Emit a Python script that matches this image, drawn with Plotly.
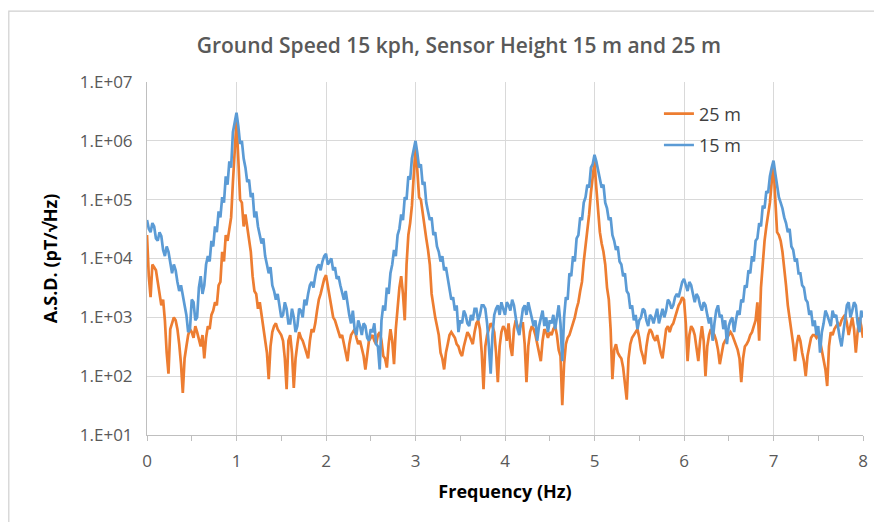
import numpy as np
import plotly.graph_objects as go

# Frequency grid (Hz), 0.02 Hz spacing from 0 to 8 Hz
freq = np.round(np.linspace(0.0, 8.0, 401), 2)

# Amplitude spectral density, sensor height 25 m (pT/sqrt(Hz))
asd_25m = [
    2.5e4, 5.0e3, 2.2e3, 7.9e3, 7.1e3, 6.3e3, 4.0e3, 2.5e3, 1.6e3, 2.0e3,
    8.9e2, 2.5e2, 1.1e2, 6.3e2, 7.9e2, 1.0e3, 8.9e2, 6.3e2, 3.5e2, 1.6e2,
    52, 2.0e2, 3.2e2, 5.0e2, 6.3e2, 5.6e2, 4.5e2, 7.1e2, 5.6e2, 4.0e2,
    3.2e2, 5.0e2, 2.0e2, 4.5e2, 7.1e2, 6.3e2, 1.1e3, 1.3e3, 1.8e3, 1.6e3,
    3.5e3, 4.0e3, 1.3e4, 8.9e3, 2.5e4, 2.0e4, 3.5e4, 5.0e4, 2.0e5, 7.9e5,
    2.2e6, 5.0e5, 1.0e5, 8.9e4, 3.5e4, 5.6e4, 3.2e4, 2.2e4, 1.3e4, 5.0e3,
    2.8e3, 2.5e3, 1.4e3, 1.8e3, 1.1e3, 6.3e2, 4.5e2, 2.5e2, 89, 3.2e2,
    5.6e2, 7.1e2, 7.9e2, 6.3e2, 5.6e2, 5.0e2, 4.0e2, 2.0e2, 60, 4.0e2,
    5.0e2, 2.5e2, 63, 2.0e2, 3.5e2, 5.6e2, 4.5e2, 4.0e2, 3.2e2, 2.5e2,
    2.0e2, 4.0e2, 6.3e2, 5.6e2, 7.9e2, 1.3e3, 2.0e3, 2.5e3, 3.5e3, 4.5e3,
    5.2e3, 3.5e3, 2.5e3, 1.6e3, 1.0e3, 8.9e2, 7.1e2, 5.6e2, 4.5e2, 5.0e2,
    3.5e2, 2.8e2, 1.8e2, 3.5e2, 5.0e2, 5.6e2, 6.3e2, 4.5e2, 3.5e2, 4.0e2,
    2.8e2, 2.2e2, 1.3e2, 2.5e2, 4.0e2, 4.5e2, 5.0e2, 4.0e2, 3.5e2, 5.0e2,
    5.6e2, 4.0e2, 2.2e2, 2.0e2, 1.4e2, 3.5e2, 6.3e2, 4.0e2, 1.6e2, 6.3e2,
    1.6e3, 3.2e3, 5.0e3, 2.5e3, 8.9e2, 7.9e3, 2.5e4, 4.0e4, 7.9e4, 2.5e5,
    7.9e5, 3.2e5, 1.1e5, 1.0e5, 5.6e4, 4.0e4, 2.2e4, 1.4e4, 7.9e3, 2.5e3,
    1.4e3, 1.0e3, 7.1e2, 5.0e2, 2.5e2, 2.0e2, 1.3e2, 2.5e2, 3.5e2, 5.0e2,
    5.6e2, 5.0e2, 4.5e2, 3.5e2, 3.2e2, 2.5e2, 2.2e2, 3.2e2, 4.5e2, 5.6e2,
    5.0e2, 4.0e2, 3.5e2, 5.6e2, 7.9e2, 8.9e2, 6.3e2, 2.5e2, 60, 3.2e2,
    5.0e2, 6.3e2, 7.9e2, 7.1e2, 5.6e2, 2.5e2, 79, 3.2e2, 5.6e2, 7.1e2,
    6.3e2, 4.0e2, 7.9e2, 3.2e2, 2.2e2, 6.3e2, 8.9e2, 7.1e2, 6.3e2, 7.9e2,
    7.9e2, 3.5e2, 79, 3.2e2, 5.6e2, 7.1e2, 6.3e2, 5.0e2, 3.5e2, 2.8e2,
    1.8e2, 4.0e2, 6.3e2, 5.6e2, 4.5e2, 5.6e2, 5.0e2, 6.3e2, 7.1e2, 5.0e2,
    2.8e2, 2.2e2, 32, 1.6e2, 3.5e2, 4.5e2, 5.0e2, 6.3e2, 7.9e2, 1.0e3,
    1.4e3, 1.8e3, 2.8e3, 4.0e3, 8.9e3, 1.6e4, 3.2e4, 5.6e4, 1.3e5, 2.5e5,
    4.5e5, 1.6e5, 5.6e4, 2.8e4, 1.8e4, 1.3e4, 7.9e3, 3.2e3, 2.0e3, 6.3e2,
    89, 2.8e2, 3.5e2, 2.5e2, 2.2e2, 2.0e2, 1.4e2, 79, 40, 2.0e2,
    3.5e2, 4.5e2, 5.0e2, 5.6e2, 6.3e2, 4.5e2, 2.8e2, 2.2e2, 1.6e2, 3.2e2,
    5.0e2, 6.3e2, 5.6e2, 4.5e2, 4.0e2, 5.0e2, 3.5e2, 2.5e2, 2.0e2, 4.0e2,
    6.3e2, 7.1e2, 5.6e2, 7.1e2, 7.9e2, 1.0e3, 1.3e3, 1.6e3, 1.8e3, 2.2e3,
    2.0e3, 7.9e2, 1.8e2, 5.0e2, 7.1e2, 6.3e2, 5.0e2, 3.2e2, 1.8e2, 4.0e2,
    7.1e2, 4.0e2, 1.0e2, 3.2e2, 5.0e2, 6.3e2, 5.6e2, 5.0e2, 4.0e2, 2.8e2,
    1.6e2, 2.5e2, 3.5e2, 4.0e2, 4.5e2, 5.0e2, 5.6e2, 5.0e2, 4.0e2, 3.5e2,
    2.8e2, 2.0e2, 79, 2.0e2, 3.2e2, 3.5e2, 4.0e2, 5.0e2, 5.6e2, 7.1e2,
    8.9e2, 1.8e3, 4.0e2, 3.2e3, 1.0e4, 2.0e4, 3.5e4, 5.6e4, 8.9e4, 2.0e5,
    4.0e5, 1.0e5, 2.8e4, 2.5e4, 2.0e4, 1.3e4, 7.1e3, 3.5e3, 1.6e3, 1.0e3,
    6.3e2, 3.5e2, 1.8e2, 3.5e2, 5.0e2, 4.0e2, 2.5e2, 1.8e2, 1.0e2, 2.2e2,
    3.2e2, 4.5e2, 5.0e2, 5.0e2, 4.5e2, 5.0e2, 4.0e2, 2.8e2, 1.8e2, 1.3e2,
    68, 3.2e2, 5.6e2, 5.0e2, 6.3e2, 7.1e2, 7.9e2, 7.1e2, 8.9e2, 1.0e3,
    1.1e3, 7.9e2, 5.0e2, 7.1e2, 1.0e3, 6.3e2, 2.5e2, 5.6e2, 1.0e3, 7.1e2,
    4.5e2,
]

# Amplitude spectral density, sensor height 15 m (pT/sqrt(Hz))
asd_15m = [
    4.5e4, 3.2e4, 2.8e4, 4.0e4, 3.5e4, 2.2e4, 2.0e4, 2.8e4, 2.4e4, 1.4e4,
    1.1e4, 1.6e4, 1.3e4, 7.9e3, 5.6e3, 7.9e3, 6.3e3, 4.0e3, 2.8e3, 3.5e3,
    2.2e3, 1.6e3, 1.1e3, 5.6e2, 6.3e2, 2.0e3, 1.8e3, 8.9e2, 1.0e3, 3.2e3,
    5.0e3, 2.5e3, 3.5e3, 7.9e3, 1.1e4, 8.9e3, 2.0e4, 1.6e4, 3.5e4, 2.8e4,
    6.3e4, 5.0e4, 1.1e5, 8.9e4, 2.5e5, 1.8e5, 4.5e5, 3.5e5, 1.4e6, 2.0e6,
    3.0e6, 1.8e6, 8.9e5, 1.0e6, 5.0e5, 3.5e5, 2.0e5, 2.2e5, 1.1e5, 1.3e5,
    5.0e4, 6.3e4, 3.5e4, 2.5e4, 1.8e4, 2.2e4, 1.1e4, 7.9e3, 5.6e3, 7.1e3,
    3.5e3, 2.8e3, 2.0e3, 2.5e3, 1.6e3, 1.0e3, 1.1e3, 1.8e3, 1.4e3, 7.9e2,
    7.9e2, 1.4e3, 1.0e3, 5.6e2, 7.1e2, 1.4e3, 1.3e3, 1.0e3, 2.0e3, 1.6e3,
    2.5e3, 3.5e3, 4.0e3, 3.2e3, 5.0e3, 7.1e3, 7.9e3, 6.3e3, 8.9e3, 1.1e4,
    1.2e4, 7.9e3, 8.9e3, 1.0e4, 6.3e3, 7.1e3, 4.5e3, 5.0e3, 3.5e3, 2.5e3,
    2.0e3, 2.8e3, 1.6e3, 1.1e3, 7.9e2, 1.3e3, 6.3e2, 5.0e2, 8.9e2, 7.1e2,
    5.0e2, 7.9e2, 7.1e2, 4.5e2, 4.0e2, 6.3e2, 5.6e2, 7.9e2, 3.5e2, 3.2e2,
    1.3e2, 8.9e2, 1.6e3, 1.3e3, 3.2e3, 2.5e3, 5.6e3, 7.9e3, 1.4e4, 1.1e4,
    2.5e4, 3.2e4, 5.6e4, 4.5e4, 1.1e5, 1.0e5, 2.5e5, 2.2e5, 5.0e5, 7.1e5,
    1.0e6, 6.3e5, 3.5e5, 4.0e5, 1.8e5, 2.0e5, 8.9e4, 6.3e4, 4.5e4, 5.0e4,
    2.5e4, 2.8e4, 1.6e4, 1.3e4, 8.9e3, 1.1e4, 6.3e3, 7.1e3, 4.5e3, 2.8e3,
    2.0e3, 2.2e3, 1.3e3, 1.6e3, 5.6e2, 8.9e2, 7.9e2, 1.3e3, 1.1e3, 7.9e2,
    7.1e2, 1.1e3, 8.9e2, 1.4e3, 1.4e3, 8.9e2, 1.1e3, 1.6e3, 1.6e3, 1.4e3,
    7.9e2, 3.2e2, 1.1e2, 5.0e2, 1.1e3, 1.4e3, 1.6e3, 1.1e3, 1.8e3, 1.4e3,
    1.1e3, 1.8e3, 1.6e3, 1.3e3, 2.0e3, 1.6e3, 1.0e3, 6.3e2, 5.0e2, 8.9e2,
    1.4e3, 1.6e3, 1.1e3, 1.8e3, 1.3e3, 1.0e3, 7.1e2, 8.9e2, 4.0e2, 7.1e2,
    1.0e3, 1.3e3, 7.1e2, 1.0e3, 5.6e2, 8.9e2, 7.9e2, 1.1e3, 6.3e2, 1.0e3,
    1.6e3, 7.9e2, 1.8e2, 1.0e3, 2.2e3, 2.0e3, 5.6e3, 5.0e3, 1.1e4, 8.9e3,
    2.2e4, 2.5e4, 5.0e4, 4.5e4, 8.9e4, 1.1e5, 1.8e5, 1.6e5, 3.5e5, 4.0e5,
    5.8e5, 4.5e5, 3.2e5, 2.2e5, 1.6e5, 1.8e5, 8.9e4, 7.1e4, 4.5e4, 5.0e4,
    2.5e4, 2.0e4, 1.4e4, 1.6e4, 8.9e3, 7.9e3, 5.0e3, 5.6e3, 2.8e3, 2.5e3,
    1.4e3, 1.6e3, 8.9e2, 1.1e3, 6.3e2, 8.9e2, 1.0e3, 1.4e3, 1.3e3, 8.9e2,
    7.1e2, 1.1e3, 1.0e3, 7.9e2, 1.1e3, 1.4e3, 7.9e2, 1.1e3, 1.4e3, 1.0e3,
    1.3e3, 2.0e3, 1.8e3, 1.4e3, 1.6e3, 2.2e3, 2.5e3, 2.2e3, 3.2e3, 4.0e3,
    4.5e3, 3.5e3, 2.8e3, 4.0e3, 3.5e3, 2.5e3, 1.8e3, 2.5e3, 2.2e3, 1.6e3,
    1.3e3, 1.8e3, 1.6e3, 1.1e3, 7.9e2, 1.0e3, 4.0e2, 7.9e2, 1.3e3, 1.6e3,
    1.0e3, 1.1e3, 6.3e2, 8.9e2, 3.5e2, 7.1e2, 8.9e2, 1.0e3, 5.6e2, 8.9e2,
    1.3e3, 1.1e3, 2.0e3, 1.8e3, 3.5e3, 3.2e3, 6.3e3, 5.6e3, 1.1e4, 8.9e3,
    2.0e4, 2.2e4, 4.0e4, 3.5e4, 7.9e4, 7.1e4, 1.4e5, 1.3e5, 2.5e5, 3.5e5,
    4.6e5, 2.8e5, 1.6e5, 1.1e5, 8.9e4, 7.1e4, 5.0e4, 4.0e4, 2.8e4, 3.2e4,
    1.6e4, 1.4e4, 8.9e3, 1.0e4, 5.6e3, 5.6e3, 3.5e3, 3.2e3, 2.0e3, 1.8e3,
    1.1e3, 1.3e3, 7.1e2, 8.9e2, 5.0e2, 7.1e2, 2.5e2, 5.6e2, 7.9e2, 1.3e3,
    1.1e3, 8.9e2, 7.1e2, 1.3e3, 1.0e3, 1.1e3, 6.3e2, 4.5e2, 3.2e2, 5.6e2,
    8.9e2, 1.6e3, 1.8e3, 1.0e3, 1.3e3, 1.8e3, 1.6e3, 7.9e2, 5.6e2, 1.3e3,
    1.0e3,
]

assert len(asd_25m) == len(freq) and len(asd_15m) == len(freq)

y_tickvals = [1e1, 1e2, 1e3, 1e4, 1e5, 1e6, 1e7]
y_ticktext = ["1.E+01", "1.E+02", "1.E+03", "1.E+04", "1.E+05", "1.E+06", "1.E+07"]
x_tickvals = [0, 1, 2, 3, 4, 5, 6, 7, 8]

FONT = "Open Sans"
GRID = "#d9d9d9"
AXIS = "#bfbfbf"

fig = go.Figure()
fig.add_trace(go.Scatter(
    x=freq, y=asd_25m, mode="lines", name="25 m", legendgroup="a",
    line=dict(color="#ED7D31", width=2.7),
))
fig.add_trace(go.Scatter(
    x=freq, y=asd_15m, mode="lines", name="15 m", legendgroup="b",
    line=dict(color="#5B9BD5", width=2.7),
))

# outer chart frame
fig.add_shape(type="rect", xref="paper", yref="paper",
              x0=-0.193, x1=1.2, y0=-0.4, y1=1.201,
              line=dict(color="#d0d0d0", width=1.2), fillcolor="rgba(0,0,0,0)",
              layer="below")

fig.update_layout(
    width=874, height=522,
    margin=dict(l=147, r=6, t=82, b=87),
    paper_bgcolor="white", plot_bgcolor="white",
    font=dict(family=FONT, color="#595959"),
    title=dict(text="Ground Speed 15 kph, Sensor Height 15 m and 25 m",
               x=0.525, xanchor="center", y=0.913, yanchor="middle",
               font=dict(family=FONT, size=21, color="#595959", weight=600)),
    showlegend=True,
    legend=dict(x=0.715, y=0.962, xanchor="left", yanchor="top",
                bgcolor="rgba(0,0,0,0)", tracegroupgap=5,
                font=dict(family=FONT, size=18, color="#404040")),
    xaxis=dict(
        range=[0, 8], tickvals=x_tickvals, showgrid=True, gridcolor=GRID, gridwidth=1,
        zeroline=False, showline=True, linecolor=AXIS, linewidth=1,
        ticks="outside", ticklen=5, tickcolor=AXIS, ticklabelstandoff=6,
        minor=dict(dtick=0.5, ticks="outside", ticklen=5, tickcolor=AXIS, showgrid=False),
        tickfont=dict(family=FONT, size=17, color="#595959"),
        title=dict(text="<b>Frequency (Hz)</b>", standoff=13,
                   font=dict(family=FONT, size=18, color="#000000")),
    ),
    yaxis=dict(
        type="log", range=[1, 7], tickvals=y_tickvals, ticktext=y_ticktext,
        showgrid=True, gridcolor=GRID, gridwidth=1, zeroline=False,
        showline=True, linecolor=AXIS, linewidth=1, ticks="",
        ticklabelstandoff=10,
        tickfont=dict(family=FONT, size=17, color="#595959"),
        title=dict(text="<b>A.S.D. (pT/√Hz)</b>", standoff=17,
                   font=dict(family=FONT, size=18, color="#000000")),
    ),
)

fig.write_html("out.html")
